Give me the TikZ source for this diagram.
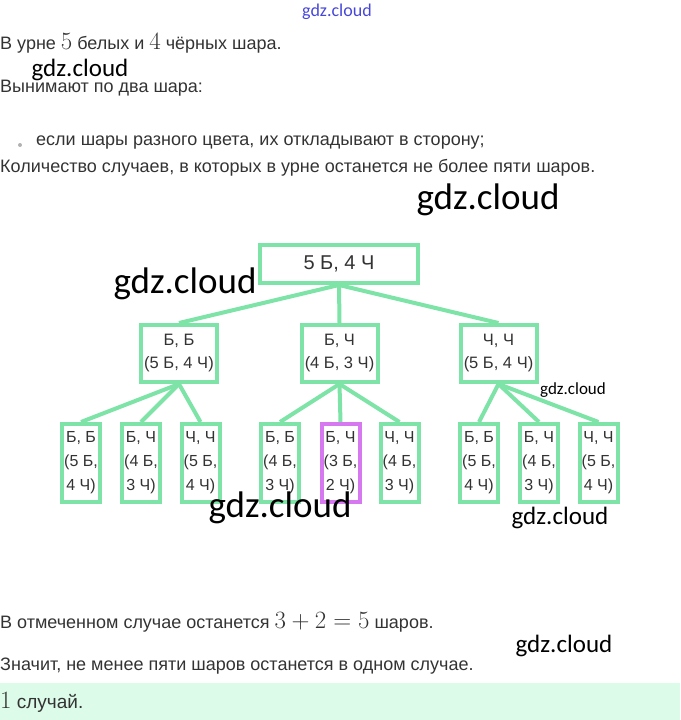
\documentclass[tikz,border=0pt]{standalone}
\usepackage[no-math]{fontspec}
\setmainfont{Liberation Sans}
\newfontfamily\wmfont{Carlito}
\usepackage{tikz}
\usetikzlibrary{positioning}
\definecolor{treegreen}{RGB}{125,227,166}
\definecolor{markpurple}{RGB}{214,120,240}
\definecolor{answermint}{RGB}{220,251,233}
\definecolor{textgrey}{RGB}{51,51,51}
\definecolor{wmblue}{RGB}{70,70,220}
\newcommand{\mathnum}[1]{{\fontsize{23}{23}\selectfont$#1$}}
\tikzset{
    rootbox/.style={draw=#1, line width=4pt, fill=white, inner sep=0pt,
                    minimum width=158pt, minimum height=38pt, text=textgrey,
                    font=\fontsize{20}{22}\selectfont, align=center},
    pairbox/.style={draw=#1, line width=4pt, fill=white, inner sep=0pt,
                    minimum width=76pt, minimum height=57pt, text=textgrey,
                    font=\fontsize{16.5}{23}\selectfont, align=center},
    leafbox/.style={draw=#1, line width=4pt, fill=white, inner sep=0pt,
                    minimum width=38pt, minimum height=78pt, text=textgrey,
                    font=\fontsize{16}{24}\selectfont, align=center},
    prose/.style={anchor=west, inner sep=0pt, text=textgrey,
                  font=\fontsize{18}{20}\selectfont},
    wmark/.style={inner sep=0pt, font=\wmfont\fontsize{#1}{#1}\selectfont},
}

\begin{document}
\begin{tikzpicture}[
    x=1pt, y=-1pt,
    branch/.style={treegreen, line width=4pt}
]
    \useasboundingbox (0,0) rectangle (680,720);
    % answer band
    \fill[answermint] (0,683) rectangle (680,720);

    % text above the tree
    \node[prose] (cond) at (0,43) {В урне \mathnum{5} белых и \mathnum{4} чёрных шара.};
    \node[prose] (rule) at (0,88) {Вынимают по два шара:};
    \node[prose] (item) at (36,143) {если шары разного цвета, их откладывают в сторону;};
    \fill[black!30] (20,145) circle (2pt);
    \node[prose] (ask) at (0,168) {Количество случаев, в которых в урне останется не более пяти шаров.};

    % tree
    \node[rootbox=treegreen] (root) at (339,264) {5 Б, 4 Ч};
    \node[pairbox=treegreen] (bb) at (179,353.5) {Б, Б\\(5 Б, 4 Ч)};
    \node[pairbox=treegreen] (bc) at (339.5,353.5) {Б, Ч\\(4 Б, 3 Ч)};
    \node[pairbox=treegreen] (cc) at (498.5,353.5) {Ч, Ч\\(5 Б, 4 Ч)};

    \node[leafbox=treegreen] (bbbb) at (81,463) {Б, Б\\(5 Б,\\4 Ч)};
    \node[leafbox=treegreen] (bbbc) at (141,463) {Б, Ч\\(4 Б,\\3 Ч)};
    \node[leafbox=treegreen] (bbcc) at (200.5,463) {Ч, Ч\\(5 Б,\\4 Ч)};
    \node[leafbox=treegreen] (bcbb) at (280,463) {Б, Б\\(4 Б,\\3 Ч)};
    \node[leafbox=markpurple] (bcbc) at (340.5,463) {Б, Ч\\(3 Б,\\2 Ч)};
    \node[leafbox=treegreen] (bccc) at (399.5,463) {Ч, Ч\\(4 Б,\\3 Ч)};
    \node[leafbox=treegreen] (ccbb) at (479,463) {Б, Б\\(5 Б,\\4 Ч)};
    \node[leafbox=treegreen] (ccbc) at (539,463) {Б, Ч\\(4 Б,\\3 Ч)};
    \node[leafbox=treegreen] (cccc) at (598.5,463) {Ч, Ч\\(5 Б,\\4 Ч)};

    \draw[branch] (root.south) -- (bb.north);
    \draw[branch] (root.south) -- (bc.north);
    \draw[branch] (root.south) -- (cc.north);
    \draw[branch] (bb.south) -- (bbbb.north);
    \draw[branch] (bb.south) -- (bbbc.north);
    \draw[branch] (bb.south) -- (bbcc.north);
    \draw[branch] (bc.south) -- (bcbb.north);
    \draw[branch] (bc.south) -- (bcbc.north);
    \draw[branch] (bc.south) -- (bccc.north);
    \draw[branch] (cc.south) -- (ccbb.north);
    \draw[branch] (cc.south) -- (ccbc.north);
    \draw[branch] (cc.south) -- (cccc.north);

    % text below the tree
    \node[prose] (sum) at (0,622) {В отмеченном случае останется \mathnum{3+2=5} шаров.};
    \node[prose] (hence) at (0,666) {Значит, не менее пяти шаров останется в одном случае.};
    \node[prose, font=\fontsize{19}{21}\selectfont] (answer) at (0,702) {\mathnum{1} случай.};

    % watermarks
    \node[wmark=18, text=wmblue] (wmtop) at (337,12) {gdz.cloud};
    \node[wmark=25] (wma) at (80,70) {gdz.cloud};
    \node[wmark=37] (wmb) at (488,200) {gdz.cloud};
    \node[wmark=37] (wmc) at (185,284) {gdz.cloud};
    \node[wmark=17] (wmd) at (573,390) {gdz.cloud};
    \node[wmark=37] (wme) at (280,508) {gdz.cloud};
    \node[wmark=25] (wmf) at (560,518) {gdz.cloud};
    \node[wmark=25] (wmg) at (564,646) {gdz.cloud};
\end{tikzpicture}
\end{document}
